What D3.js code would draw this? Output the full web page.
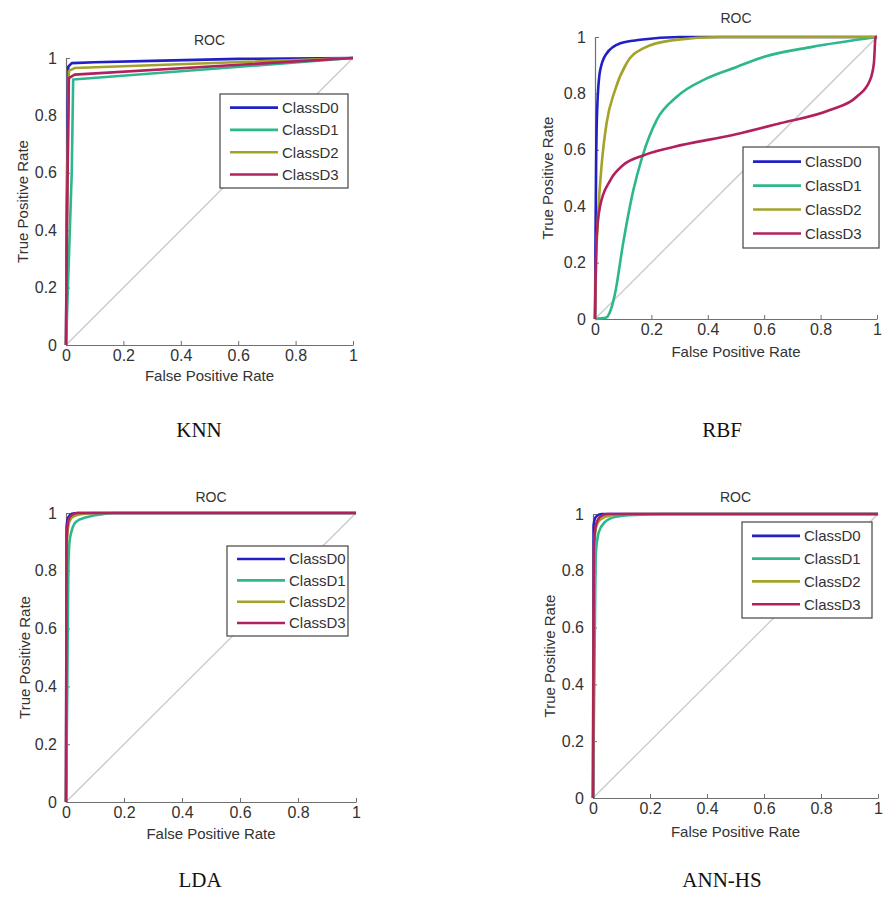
<!DOCTYPE html>
<html>
<head>
<meta charset="utf-8">
<script src="https://cdn.jsdelivr.net/npm/d3@7"></script>
<style>
  body { margin: 0; background: #fff; }
  svg text { font-family: "Liberation Sans", Arial, sans-serif; }
</style>
</head>
<body>
<svg id="chart" width="883" height="899"></svg>
<script>
// --- data: ROC points [fpr, tpr] ---
const classes = ["ClassD0", "ClassD1", "ClassD2", "ClassD3"];
const classColors = ["#2020c4", "#2cb88c", "#a3a32c", "#b2205e"];
const ticks = [0, 0.2, 0.4, 0.6, 0.8, 1];

const knnD0 = [[0,0],[0.003,0.5],[0.008,0.97],[0.02,0.982],[0.1,0.985],[0.3,0.99],[0.6,0.997],[1,1]];
const knnD1 = [[0,0],[0.01,0.3],[0.02,0.6],[0.025,0.925],[1,1]];
const knnD2 = [[0,0],[0.005,0.6],[0.01,0.955],[0.03,0.965],[1,1]];
const knnD3 = [[0,0],[0.003,0.4],[0.01,0.93],[0.03,0.942],[1,1]];

const rbfD0 = [[0,0],[0.002,0.3],[0.004,0.55],[0.008,0.75],[0.018,0.88],[0.04,0.94],[0.09,0.978],[0.16,0.99],[0.3,1],[1,1]];
const rbfD1 = [[0,0],[0.04,0.005],[0.055,0.03],[0.071,0.09],[0.1,0.27],[0.136,0.457],[0.166,0.57],[0.219,0.706],[0.29,0.788],[0.396,0.853],[0.5,0.893],[0.6,0.93],[0.77,0.965],[1,1]];
const rbfD2 = [[0,0],[0.004,0.2],[0.012,0.387],[0.024,0.552],[0.041,0.694],[0.071,0.812],[0.112,0.907],[0.171,0.96],[0.278,0.989],[0.45,1],[1,1]];
const rbfD3 = [[0,0],[0.002,0.14],[0.006,0.29],[0.018,0.4],[0.053,0.49],[0.1,0.546],[0.171,0.58],[0.278,0.61],[0.5,0.655],[0.656,0.694],[0.833,0.741],[0.928,0.788],[0.975,0.847],[0.989,0.907],[0.995,1],[1,1]];

const ldaD0 = [[0,0],[0.002,0.95],[0.008,0.985],[0.02,0.997],[0.04,1],[1,1]];
const ldaD1 = [[0,0],[0.004,0.35],[0.008,0.8],[0.012,0.9],[0.02,0.94],[0.035,0.97],[0.07,0.985],[0.12,0.995],[0.17,1],[1,1]];
const ldaD2 = [[0,0],[0.003,0.9],[0.01,0.965],[0.025,0.988],[0.06,0.997],[0.1,1],[1,1]];
const ldaD3 = [[0,0],[0.002,0.9],[0.008,0.975],[0.02,0.993],[0.04,1],[1,1]];

const annD0 = [[0,0],[0.002,0.96],[0.01,0.99],[0.03,1],[1,1]];
const annD1 = [[0,0],[0.005,0.45],[0.01,0.86],[0.02,0.935],[0.04,0.97],[0.08,0.99],[0.15,0.997],[0.25,1],[1,1]];
const annD2 = [[0,0],[0.004,0.88],[0.01,0.95],[0.025,0.98],[0.06,0.995],[0.12,1],[1,1]];
const annD3 = [[0,0],[0.003,0.88],[0.01,0.96],[0.025,0.99],[0.05,1],[1,1]];

// --- panel layout ---
const panels = [
  {name: "KNN",    series: [knnD0, knnD1, knnD2, knnD3], x0: 66,  x1: 353, y0: 345, y1: 58,
   titleY: 45,  xlabY: 381, ylabX: 23,  capX: 199, capY: 437, legend: {x: 220, y: 94,  w: 128, h: 94},  curve: d3.curveLinear},
  {name: "RBF",    series: [rbfD0, rbfD1, rbfD2, rbfD3], x0: 595, x1: 877, y0: 319, y1: 37,
   titleY: 23,  xlabY: 357, ylabX: 548, capX: 722, capY: 437, legend: {x: 743, y: 147, w: 136, h: 101}, curve: d3.curveMonotoneX},
  {name: "LDA",    series: [ldaD0, ldaD1, ldaD2, ldaD3], x0: 66,  x1: 356, y0: 802, y1: 513,
   titleY: 502, xlabY: 839, ylabX: 25,  capX: 200, capY: 887, legend: {x: 227, y: 546, w: 121, h: 90},  curve: d3.curveMonotoneX},
  {name: "ANN-HS", series: [annD0, annD1, annD2, annD3], x0: 593, x1: 878, y0: 798, y1: 514,
   titleY: 502, xlabY: 837, ylabX: 550, capX: 722, capY: 887, legend: {x: 742, y: 522, w: 130, h: 96},  curve: d3.curveMonotoneX}
];

const svg = d3.select("#chart");

panels.forEach(p => {
  const x = d3.scaleLinear().domain([0, 1]).range([p.x0, p.x1]);
  const y = d3.scaleLinear().domain([0, 1]).range([p.y0, p.y1]);
  const g = svg.append("g");

  // diagonal
  g.append("line")
    .attr("x1", x(0)).attr("y1", y(0)).attr("x2", x(1)).attr("y2", y(1))
    .attr("stroke", "#c8c8c8").attr("stroke-width", 1.3);

  // axes (MATLAB style, ticks inward)
  const ax = g.append("g")
    .attr("transform", `translate(0,${p.y0})`)
    .call(d3.axisBottom(x).tickValues(ticks).tickFormat(d => String(d)).tickSize(-4).tickSizeOuter(0).tickPadding(5));
  const ay = g.append("g")
    .attr("transform", `translate(${p.x0},0)`)
    .call(d3.axisLeft(y).tickValues(ticks).tickFormat(d => String(d)).tickSize(-4).tickSizeOuter(0).tickPadding(9));
  [ax, ay].forEach(a => {
    a.select(".domain").attr("stroke", "#707070").attr("stroke-width", 1.2);
    a.selectAll(".tick line").attr("stroke", "#707070");
    a.selectAll(".tick text").style("font-size", "16px").attr("fill", "#333");
  });

  // curves
  const line = d3.line().x(d => x(d[0])).y(d => y(d[1])).curve(p.curve);
  p.series.forEach((s, i) => {
    g.append("path")
      .datum(s)
      .attr("d", line)
      .attr("fill", "none")
      .attr("stroke", classColors[i])
      .attr("stroke-width", 2.6)
      .attr("stroke-linejoin", "round");
  });

  // title & labels
  g.append("text")
    .attr("x", (p.x0 + p.x1) / 2).attr("y", p.titleY)
    .attr("text-anchor", "middle").style("font-size", "14px").attr("fill", "#333")
    .text("ROC");
  g.append("text")
    .attr("x", (p.x0 + p.x1) / 2).attr("y", p.xlabY)
    .attr("text-anchor", "middle").style("font-size", "15px").attr("fill", "#333")
    .text("False Positive Rate");
  g.append("text")
    .attr("transform", `translate(${p.ylabX},${(p.y0 + p.y1) / 2}) rotate(-90)`)
    .attr("text-anchor", "middle").attr("dy", "0.35em").style("font-size", "15px").attr("fill", "#333")
    .text("True Positive Rate");

  // legend
  const L = p.legend;
  const lg = g.append("g");
  lg.append("rect")
    .attr("x", L.x).attr("y", L.y).attr("width", L.w).attr("height", L.h)
    .attr("fill", "#fff").attr("stroke", "#444").attr("stroke-width", 1.2);
  classes.forEach((c, i) => {
    const ry = L.y + L.h * (0.145 + 0.237 * i);
    lg.append("line")
      .attr("x1", L.x + 10).attr("x2", L.x + 58).attr("y1", ry).attr("y2", ry)
      .attr("stroke", classColors[i]).attr("stroke-width", 2.6);
    lg.append("text")
      .attr("x", L.x + 62).attr("y", ry).attr("dy", "0.36em")
      .style("font-size", "15px").attr("fill", "#333")
      .text(c);
  });

  // caption under panel
  g.append("text")
    .attr("x", p.capX).attr("y", p.capY)
    .attr("text-anchor", "middle")
    .style("font-family", "'Liberation Serif', 'Times New Roman', serif")
    .style("font-size", "21px").attr("fill", "#111")
    .text(p.name);
});
</script>
</body>
</html>
